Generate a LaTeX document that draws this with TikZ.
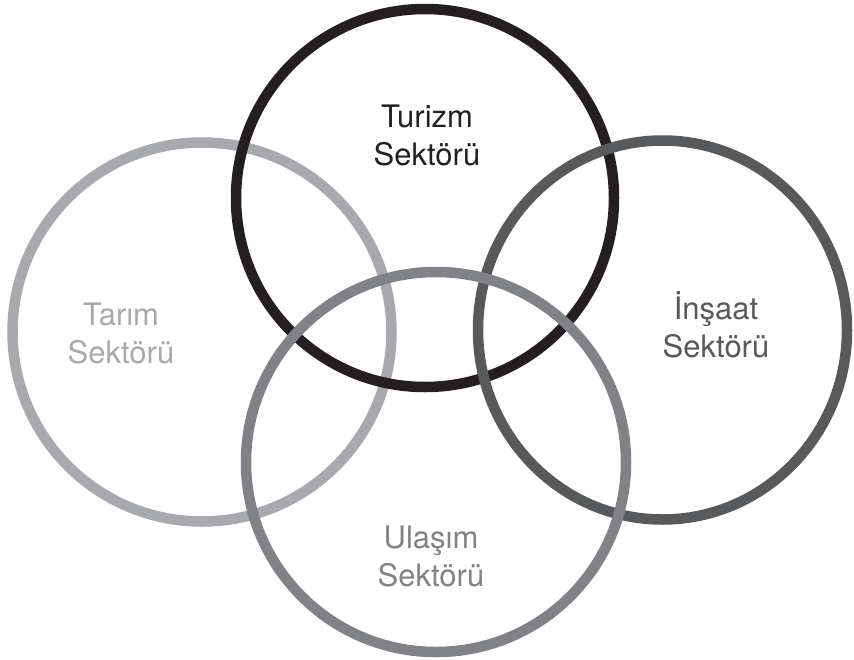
\documentclass[tikz,border=0pt]{standalone}
\usepackage{fontspec}
\setmainfont{TeX Gyre Heros}
\usepackage{tikz}
\usepackage{xcolor}
\definecolor{seclight}{HTML}{A7A9AC}
\definecolor{secmid}{HTML}{808285}
\definecolor{secdark}{HTML}{58595B}
\definecolor{secblack}{HTML}{231F20}
\tikzstyle{ring} = [line width=10.5pt]
\tikzstyle{sectortext} = [align=center, inner sep=0pt, font=\fontsize{31}{38}\selectfont]

\begin{document}
\begin{tikzpicture}[x=1pt, y=-1pt]
\useasboundingbox (0,0) rectangle (854,659);
% Rings
\draw[ring, draw=seclight] (202,332) circle[radius=189.5pt];
\draw[ring, draw=secblack] (425,198) circle[radius=189pt];
\draw[ring, draw=secdark] (662.5,330) ellipse[x radius=184.5pt, y radius=189.5pt];
\draw[ring, draw=secmid] (436,462) circle[radius=190pt];
% Labels
\node[sectortext, text=secblack] (turizm) at (427,135) {Turizm\\Sektörü};
\node[sectortext, text=seclight] (tarim) at (121,333) {Tarım\\Sektörü};
\node[sectortext, text=secdark] (insaat) at (716,325) {İnşaat\\Sektörü};
\node[sectortext, text=secmid] (ulasim) at (431,556) {Ulaşım\\Sektörü};
\end{tikzpicture}
\end{document}
